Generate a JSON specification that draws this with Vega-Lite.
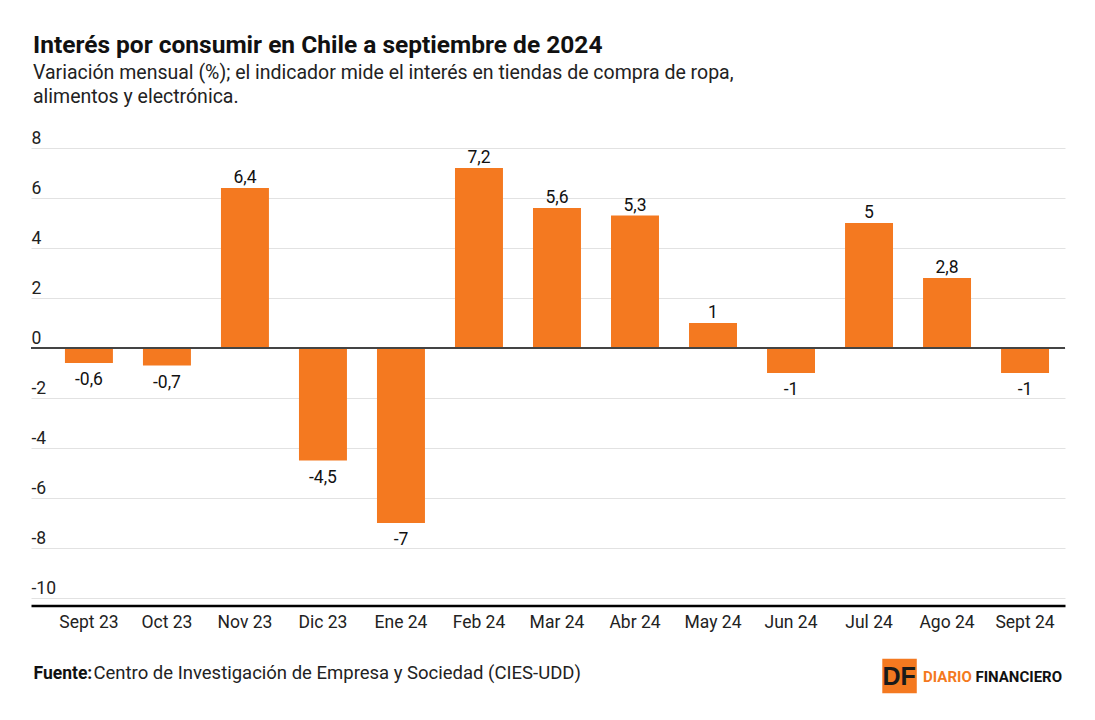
{
  "$schema": "https://vega.github.io/schema/vega-lite/v6.json",
  "autosize": "none",
  "width": 1034,
  "height": 457.5,
  "padding": {"left": 31, "top": 148, "right": 30, "bottom": 114.5},
  "background": "white",
  "title": {
    "text": "Interés por consumir en Chile a septiembre de 2024",
    "subtitle": ["Variación mensual (%); el indicador mide el interés en tiendas de compra de ropa,", "alimentos y electrónica."],
    "anchor": "start",
    "frame": "group",
    "dx": 2,
    "offset": 22,
    "font": "Roboto",
    "fontSize": 24.5,
    "fontWeight": "bold",
    "color": "#111111",
    "subtitleFont": "Roboto",
    "subtitleFontSize": 19.5,
    "subtitleColor": "#222222",
    "subtitleLineHeight": 24,
    "subtitlePadding": 5
  },
  "config": {
    "view": {"stroke": null},
    "locale": {
      "number": {"decimal": ",", "thousands": ".", "grouping": [3], "currency": ["$", ""], "minus": "-"}
    },
    "axis": {"labelFont": "Roboto", "titleFont": "Roboto"}
  },
  "data": {
    "values": [
      {"mes": "Sept 23", "valor": -0.6},
      {"mes": "Oct 23", "valor": -0.7},
      {"mes": "Nov 23", "valor": 6.4},
      {"mes": "Dic 23", "valor": -4.5},
      {"mes": "Ene 24", "valor": -7},
      {"mes": "Feb 24", "valor": 7.2},
      {"mes": "Mar 24", "valor": 5.6},
      {"mes": "Abr 24", "valor": 5.3},
      {"mes": "May 24", "valor": 1},
      {"mes": "Jun 24", "valor": -1},
      {"mes": "Jul 24", "valor": 5},
      {"mes": "Ago 24", "valor": 2.8},
      {"mes": "Sept 24", "valor": -1}
    ]
  },
  "encoding": {
    "x": {
      "field": "mes",
      "type": "nominal",
      "sort": null,
      "scale": {"paddingInner": 0.385, "paddingOuter": 0.32, "align": 0.68},
      "axis": {
        "title": "Fuente:",
        "titleFontWeight": "bold",
        "titleFontSize": 17.5,
        "titleColor": "#111111",
        "titleAnchor": "start",
        "titleAlign": "left",
        "titleBaseline": "alphabetic",
        "titleX": 2,
        "titleY": 73,
        "labelAngle": 0,
        "labelFontSize": 17.5,
        "labelColor": "#222222",
        "labelPadding": 8,
        "ticks": false,
        "domainColor": "#000000",
        "domainWidth": 2.5,
        "grid": false
      }
    },
    "y": {
      "field": "valor",
      "type": "quantitative",
      "scale": {"domain": [-10.3, 8], "nice": false, "zero": false},
      "axis": {
        "title": "Centro de Investigación de Empresa y Sociedad (CIES-UDD)",
        "titleAngle": 0,
        "titleFontWeight": "normal",
        "titleFontSize": 18.5,
        "titleColor": "#222222",
        "titleAlign": "left",
        "titleBaseline": "alphabetic",
        "titleAnchor": "start",
        "titleX": 62,
        "titleY": 530,
        "values": [-10, -8, -6, -4, -2, 0, 2, 4, 6, 8],
        "format": "d",
        "labelAlign": "left",
        "labelBaseline": "alphabetic",
        "labelOffset": -5,
        "labelPadding": 0,
        "labelFontSize": 17.5,
        "labelColor": "#222222",
        "ticks": false,
        "domain": false,
        "grid": true,
        "gridColor": "#e2e2e2",
        "gridWidth": 1
      }
    }
  },
  "layer": [
    {
      "mark": {"type": "bar", "color": "#F47920"}
    },
    {
      "mark": {"type": "rule", "color": "#444444", "strokeWidth": 1},
      "encoding": {"y": {"datum": 0}, "x": {}}
    },
    {
      "transform": [{"filter": "datum.valor >= 0"}],
      "mark": {"type": "text", "baseline": "alphabetic", "dy": -5, "font": "Roboto", "fontSize": 17.5, "color": "#111111"},
      "encoding": {"text": {"field": "valor", "type": "quantitative", "format": ".1~f"}}
    },
    {
      "transform": [{"filter": "datum.valor < 0"}],
      "mark": {"type": "text", "baseline": "top", "dy": 8, "font": "Roboto", "fontSize": 17.5, "color": "#111111"},
      "encoding": {"text": {"field": "valor", "type": "quantitative", "format": ".1~f"}}
    },
    {
      "transform": [{"filter": "datum.mes == 'Sept 24'"}],
      "mark": {"type": "point", "shape": "square", "size": 1190, "filled": true, "opacity": 1, "color": "#F47920", "xOffset": -125.5},
      "encoding": {"y": {"datum": -13.12}}
    },
    {
      "transform": [{"filter": "datum.mes == 'Sept 24'"}],
      "mark": {"type": "text", "text": "DF", "font": "Liberation Sans", "fontWeight": "bold", "fontSize": 25, "letterSpacing": -1.5, "color": "#1a1a1a", "baseline": "middle", "align": "center", "dx": -126, "dy": 1},
      "encoding": {"y": {"datum": -13.12}}
    },
    {
      "transform": [{"filter": "datum.mes == 'Sept 24'"}],
      "mark": {"type": "text", "text": "DIARIO", "font": "Roboto", "fontWeight": "bold", "fontSize": 15, "color": "#F47920", "baseline": "middle", "align": "left", "dx": -102, "dy": 1},
      "encoding": {"y": {"datum": -13.12}}
    },
    {
      "transform": [{"filter": "datum.mes == 'Sept 24'"}],
      "mark": {"type": "text", "text": "FINANCIERO", "font": "Roboto", "fontWeight": "bold", "fontSize": 15, "color": "#111111", "baseline": "middle", "align": "right", "dx": 37, "dy": 1},
      "encoding": {"y": {"datum": -13.12}}
    }
  ]
}
